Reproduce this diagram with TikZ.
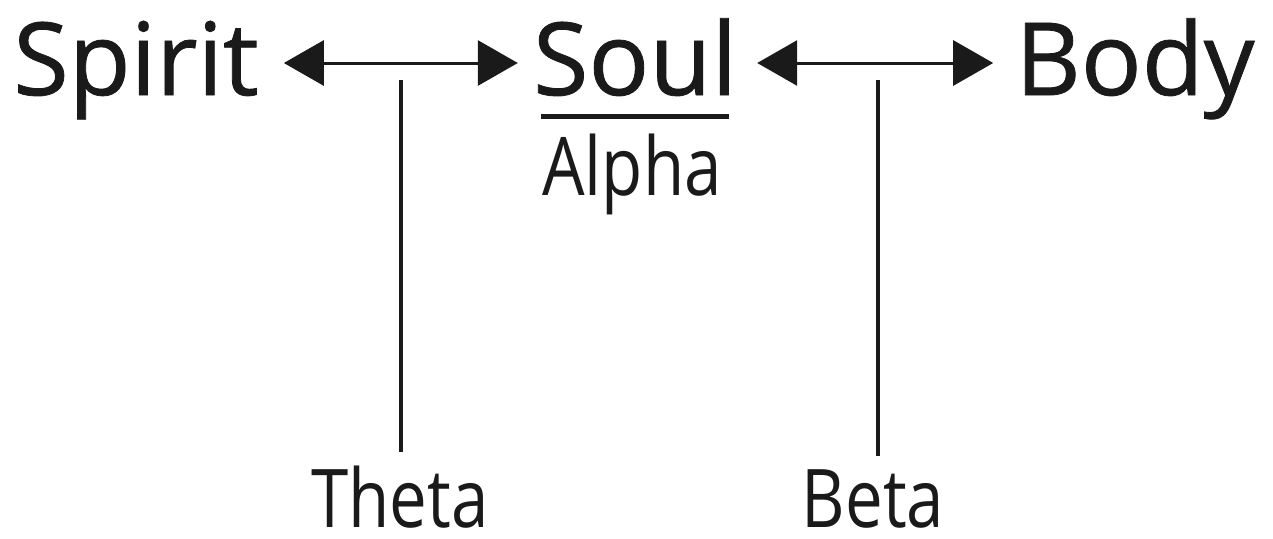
\documentclass[tikz,border=0pt]{standalone}
\usepackage{fontspec}
\setmainfont{Open Sans}
\newfontfamily\heavyfont[FakeBold=0.8]{Open Sans}
\newfontfamily\slimfont[FakeStretch=0.83]{Open Sans}
\usetikzlibrary{arrows.meta}
\newcommand{\wordSty}{\heavyfont\fontsize{101}{110}\selectfont}
\newcommand{\tagSty}{\slimfont\fontsize{81}{90}\selectfont}
\definecolor{ink}{HTML}{1A1A1A}

\begin{document}
\begin{tikzpicture}[x=1pt, y=-1pt,
		word/.style = {inner sep=0pt, anchor=base, text=ink, font=\wordSty},
		tag/.style = {inner sep=0pt, anchor=base, text=ink, font=\tagSty},
		biarrow/.style = {draw=ink, line width=3pt, {Triangle[length=40pt,width=45pt]}-{Triangle[length=40pt,width=45pt]}},
		stem/.style = {draw=ink, line width=4pt}]

		% frame
		\useasboundingbox (0,0) rectangle (1273,538);

		% main words
		\node[word] (spirit) at (136,95) {Spirit};
		\node[word] (soul) at (635,95) {Soul};
		\node[word] (body) at (1135,95) {Body};

		% underline and sub label
		\draw[draw=ink, line width=5pt] ([shift={(8pt,-21pt)}]soul.base west) -- ([shift={(-8pt,-21pt)}]soul.base east);
		\node[tag] (alpha) at (632,195) {Alpha};

		% arrows
		\draw[biarrow] ([shift={(25pt,32pt)}]spirit.base east) -- coordinate[pos=0.5] (midA) ([shift={(-15pt,32pt)}]soul.base west);
		\draw[biarrow] ([shift={(20pt,32pt)}]soul.base east) -- coordinate[pos=0.5] (midB) ([shift={(-22pt,32pt)}]body.base west);

		% bottom labels
		\node[tag] (theta) at (400,527) {Theta};
		\node[tag] (beta) at (873,527) {Beta};

		% stems
		\draw[stem] ([yshift=-17pt]midA) -- ([yshift=13pt]midA |- theta.north);
		\draw[stem] ([shift={(3pt,-17pt)}]midB) -- ([shift={(3pt,13pt)}]midB |- beta.north);

	\end{tikzpicture}
\end{document}
